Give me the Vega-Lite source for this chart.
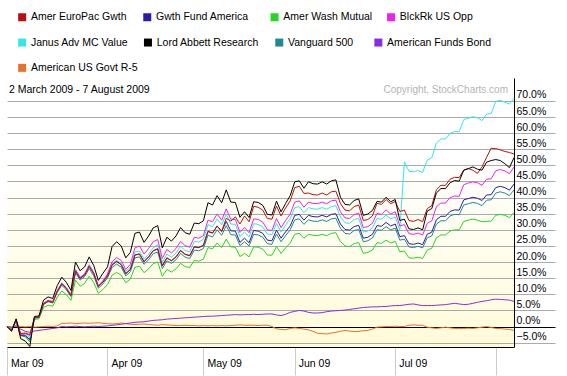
{
  "$schema": "https://vega.github.io/schema/vega-lite/v6.json",
  "width": 507,
  "height": 269,
  "autosize": {"type": "none"},
  "padding": {"left": 7, "top": 78, "right": 53, "bottom": 29},
  "background": "#ffffff",
  "view": {
    "stroke": null,
    "fill": {"gradient": "linear", "x1": 0, "y1": 0, "x2": 0, "y2": 1, "stops": [{"offset": 0, "color": "#ffffff"}, {"offset": 0.3, "color": "#ffffff"}, {"offset": 1, "color": "#fffbd8"}]}
  },
  "config": {
    "font": "Liberation Sans",
    "legend": {
      "orient": "none", "direction": "horizontal", "title": null, "padding": 0,
      "symbolType": "square", "symbolSize": 1, "symbolStrokeWidth": 7,
      "labelFont": "Liberation Sans", "labelFontSize": 10.5, "labelColor": "#000000",
      "labelOffset": 3.5, "labelLimit": 300, "columnPadding": 5
    }
  },
  "resolve": {"scale": {"color": "independent"}, "legend": {"color": "independent"}},
  "datasets": {
    "funds": [
      {"code": "eu", "name": "Amer EuroPac Gwth"},
      {"code": "gf", "name": "Gwth Fund America"},
      {"code": "wm", "name": "Amer Wash Mutual"},
      {"code": "bk", "name": "BlckRk US Opp"},
      {"code": "ja", "name": "Janus Adv MC Value"},
      {"code": "la", "name": "Lord Abbett Research"},
      {"code": "vg", "name": "Vanguard 500"},
      {"code": "bd", "name": "American Funds Bond"},
      {"code": "gv", "name": "American US Govt R-5"}
    ],
    "perf": [
      {"i":0,"eu":0,"gf":0,"wm":0,"bk":0,"ja":0,"la":0,"vg":0,"bd":0,"gv":0},
      {"i":1,"eu":-1.2,"gf":-0.9,"wm":-0.6,"bk":-1.0,"ja":-0.7,"la":-1.5,"vg":-0.8,"bd":-0.3,"gv":-0.1},
      {"i":2,"eu":2.2,"gf":1.8,"wm":1.5,"bk":2.0,"ja":1.8,"la":2.4,"vg":1.6,"bd":0.3,"gv":0.1},
      {"i":3,"eu":-2.2,"gf":-2.8,"wm":-2.8,"bk":-2.6,"ja":-2.3,"la":-3.8,"vg":-2.5,"bd":-0.8,"gv":0.0},
      {"i":4,"eu":-2.0,"gf":-2.9,"wm":-3.2,"bk":-2.2,"ja":-2.5,"la":-4.5,"vg":-2.7,"bd":-1.5,"gv":-0.1},
      {"i":5,"eu":-2.5,"gf":-4.0,"wm":-4.8,"bk":-2.8,"ja":-3.5,"la":-6.2,"vg":-4.3,"bd":-1.8,"gv":0.0},
      {"i":6,"eu":2.7,"gf":2.7,"wm":2.2,"bk":2.7,"ja":2.8,"la":3.1,"vg":2.6,"bd":-1.4,"gv":-0.2},
      {"i":7,"eu":2.9,"gf":2.9,"wm":2.4,"bk":2.9,"ja":3.0,"la":3.3,"vg":2.8,"bd":-1.2,"gv":-0.1},
      {"i":8,"eu":7.0,"gf":7.1,"wm":5.9,"bk":7.2,"ja":7.2,"la":8.2,"vg":6.8,"bd":-1.0,"gv":0.0},
      {"i":9,"eu":7.9,"gf":8.0,"wm":6.6,"bk":8.1,"ja":8.2,"la":9.2,"vg":7.7,"bd":-0.8,"gv":0.1},
      {"i":10,"eu":7.5,"gf":7.6,"wm":6.3,"bk":7.7,"ja":7.8,"la":8.7,"vg":7.3,"bd":-0.6,"gv":0.0},
      {"i":11,"eu":10.9,"gf":11.0,"wm":9.1,"bk":11.1,"ja":11.2,"la":12.7,"vg":10.6,"bd":-0.4,"gv":0.2},
      {"i":12,"eu":13.2,"gf":13.3,"wm":11.0,"bk":13.4,"ja":13.6,"la":15.3,"vg":12.8,"bd":0.0,"gv":1.0},
      {"i":13,"eu":11.8,"gf":11.9,"wm":9.9,"bk":12.0,"ja":12.1,"la":13.7,"vg":11.4,"bd":-0.1,"gv":1.0},
      {"i":14,"eu":9.6,"gf":9.7,"wm":8.1,"bk":9.8,"ja":9.9,"la":11.2,"vg":9.3,"bd":0.0,"gv":1.1},
      {"i":15,"eu":17.2,"gf":17.4,"wm":14.4,"bk":17.6,"ja":17.7,"la":20.0,"vg":16.7,"bd":0.1,"gv":0.9},
      {"i":16,"eu":14.9,"gf":15.0,"wm":12.5,"bk":15.2,"ja":15.3,"la":17.3,"vg":14.4,"bd":0.0,"gv":1.0},
      {"i":17,"eu":15.9,"gf":16.1,"wm":13.4,"bk":16.3,"ja":16.4,"la":18.5,"vg":15.5,"bd":-0.1,"gv":1.1},
      {"i":18,"eu":18.6,"gf":18.8,"wm":15.6,"bk":19.0,"ja":19.2,"la":21.6,"vg":18.0,"bd":0.0,"gv":1.0},
      {"i":19,"eu":16.4,"gf":16.4,"wm":13.6,"bk":16.6,"ja":16.7,"la":18.9,"vg":15.7,"bd":0.1,"gv":1.1},
      {"i":20,"eu":12.4,"gf":12.4,"wm":10.3,"bk":12.6,"ja":12.6,"la":14.3,"vg":11.9,"bd":0.0,"gv":1.2},
      {"i":21,"eu":13.8,"gf":13.8,"wm":11.5,"bk":14.2,"ja":14.1,"la":16.5,"vg":13.2,"bd":0.1,"gv":1.0},
      {"i":22,"eu":15.7,"gf":15.7,"wm":13.0,"bk":16.3,"ja":16.0,"la":18.5,"vg":15.1,"bd":0.2,"gv":0.9},
      {"i":23,"eu":19.1,"gf":19.1,"wm":15.9,"bk":20.1,"ja":19.5,"la":24.8,"vg":18.3,"bd":0.4,"gv":0.8},
      {"i":24,"eu":20.2,"gf":20.2,"wm":16.8,"bk":21.4,"ja":20.6,"la":26.3,"vg":19.4,"bd":0.5,"gv":0.9},
      {"i":25,"eu":19.2,"gf":19.2,"wm":15.9,"bk":20.5,"ja":19.6,"la":25.0,"vg":18.4,"bd":0.7,"gv":1.1},
      {"i":26,"eu":16.4,"gf":16.4,"wm":13.6,"bk":17.7,"ja":17.1,"la":21.3,"vg":15.7,"bd":0.9,"gv":0.9},
      {"i":27,"eu":17.7,"gf":17.7,"wm":14.7,"bk":19.3,"ja":18.4,"la":23.0,"vg":17.0,"bd":1.1,"gv":0.7},
      {"i":28,"eu":22.2,"gf":22.2,"wm":18.4,"bk":24.4,"ja":23.1,"la":28.9,"vg":21.3,"bd":1.3,"gv":0.6},
      {"i":29,"eu":22.5,"gf":22.5,"wm":18.7,"bk":25.0,"ja":23.4,"la":29.3,"vg":21.6,"bd":1.4,"gv":0.7},
      {"i":30,"eu":20.1,"gf":20.1,"wm":16.7,"bk":22.5,"ja":20.9,"la":26.1,"vg":19.3,"bd":1.5,"gv":0.8},
      {"i":31,"eu":21.6,"gf":21.6,"wm":17.9,"bk":24.2,"ja":22.5,"la":28.1,"vg":20.7,"bd":1.7,"gv":0.6},
      {"i":32,"eu":23.5,"gf":23.5,"wm":19.5,"bk":26.3,"ja":24.4,"la":30.6,"vg":22.6,"bd":1.9,"gv":0.5},
      {"i":33,"eu":24.1,"gf":24.1,"wm":20.0,"bk":27.0,"ja":25.4,"la":31.3,"vg":23.1,"bd":2.0,"gv":0.4},
      {"i":34,"eu":18.8,"gf":18.8,"wm":15.6,"bk":21.1,"ja":19.8,"la":24.4,"vg":18.0,"bd":2.1,"gv":0.6},
      {"i":35,"eu":21.3,"gf":21.3,"wm":17.7,"bk":23.9,"ja":22.5,"la":27.7,"vg":20.4,"bd":2.3,"gv":0.5},
      {"i":36,"eu":20.4,"gf":20.4,"wm":16.9,"bk":22.8,"ja":21.5,"la":26.5,"vg":19.6,"bd":2.4,"gv":0.4},
      {"i":37,"eu":21.6,"gf":21.6,"wm":17.9,"bk":24.2,"ja":22.8,"la":28.1,"vg":20.7,"bd":2.5,"gv":0.3},
      {"i":38,"eu":23.6,"gf":23.6,"wm":19.6,"bk":26.4,"ja":24.9,"la":30.7,"vg":22.7,"bd":2.6,"gv":0.3},
      {"i":39,"eu":22.4,"gf":22.4,"wm":18.6,"bk":25.1,"ja":23.6,"la":29.1,"vg":21.5,"bd":2.7,"gv":0.4},
      {"i":40,"eu":22.0,"gf":22.0,"wm":18.3,"bk":24.6,"ja":23.2,"la":28.6,"vg":21.1,"bd":2.8,"gv":0.3},
      {"i":41,"eu":24.7,"gf":24.7,"wm":20.5,"bk":27.7,"ja":26.4,"la":32.1,"vg":23.7,"bd":2.9,"gv":0.3},
      {"i":42,"eu":24.5,"gf":24.5,"wm":20.3,"bk":27.4,"ja":26.2,"la":31.9,"vg":23.5,"bd":3.0,"gv":0.2},
      {"i":43,"eu":25.2,"gf":25.2,"wm":20.9,"bk":28.2,"ja":27.0,"la":32.8,"vg":24.2,"bd":3.1,"gv":0.3},
      {"i":44,"eu":29.5,"gf":29.5,"wm":24.5,"bk":33.0,"ja":31.6,"la":38.4,"vg":28.3,"bd":3.2,"gv":0.2},
      {"i":45,"eu":29.0,"gf":29.0,"wm":24.1,"bk":32.5,"ja":31.0,"la":37.7,"vg":27.8,"bd":3.2,"gv":0.3},
      {"i":46,"eu":31.2,"gf":31.2,"wm":25.9,"bk":34.9,"ja":33.4,"la":40.6,"vg":30.0,"bd":3.3,"gv":0.2},
      {"i":47,"eu":29.5,"gf":29.5,"wm":24.5,"bk":33.0,"ja":31.6,"la":38.4,"vg":28.3,"bd":3.4,"gv":0.3},
      {"i":48,"eu":33.6,"gf":32.6,"wm":27.1,"bk":36.5,"ja":34.9,"la":42.4,"vg":31.3,"bd":3.5,"gv":0.2},
      {"i":49,"eu":32.7,"gf":29.7,"wm":24.7,"bk":33.3,"ja":31.8,"la":38.6,"vg":28.5,"bd":3.6,"gv":0.3},
      {"i":50,"eu":34.0,"gf":29.6,"wm":24.6,"bk":33.2,"ja":31.7,"la":38.5,"vg":28.4,"bd":3.7,"gv":0.4},
      {"i":51,"eu":31.8,"gf":26.1,"wm":21.7,"bk":29.2,"ja":27.9,"la":33.9,"vg":25.1,"bd":3.6,"gv":0.5},
      {"i":52,"eu":34.3,"gf":27.4,"wm":22.7,"bk":30.7,"ja":29.3,"la":35.6,"vg":26.3,"bd":3.7,"gv":0.4},
      {"i":53,"eu":32.5,"gf":26.0,"wm":21.6,"bk":29.1,"ja":27.8,"la":33.8,"vg":25.0,"bd":3.7,"gv":0.4},
      {"i":54,"eu":37.3,"gf":29.8,"wm":24.7,"bk":33.4,"ja":31.9,"la":38.7,"vg":28.6,"bd":3.8,"gv":0.4},
      {"i":55,"eu":37.0,"gf":29.6,"wm":24.6,"bk":33.2,"ja":31.7,"la":38.5,"vg":28.4,"bd":3.7,"gv":0.3},
      {"i":56,"eu":36.1,"gf":28.9,"wm":24.0,"bk":32.4,"ja":30.9,"la":37.6,"vg":27.7,"bd":3.8,"gv":0.4},
      {"i":57,"eu":33.5,"gf":26.8,"wm":22.2,"bk":30.0,"ja":28.7,"la":34.8,"vg":25.7,"bd":3.9,"gv":0.4},
      {"i":58,"eu":33.3,"gf":26.6,"wm":22.1,"bk":29.8,"ja":28.5,"la":34.6,"vg":25.5,"bd":3.9,"gv":0.0},
      {"i":59,"eu":37.4,"gf":29.9,"wm":24.8,"bk":33.5,"ja":32.0,"la":38.9,"vg":28.7,"bd":3.6,"gv":-0.7},
      {"i":60,"eu":34.3,"gf":27.4,"wm":22.7,"bk":30.7,"ja":29.3,"la":35.6,"vg":26.3,"bd":3.4,"gv":-0.9},
      {"i":61,"eu":36.8,"gf":29.4,"wm":24.4,"bk":32.9,"ja":31.5,"la":38.2,"vg":28.2,"bd":3.8,"gv":-1.0},
      {"i":62,"eu":39.0,"gf":31.2,"wm":25.9,"bk":34.9,"ja":33.4,"la":40.6,"vg":30.0,"bd":4.4,"gv":-0.6},
      {"i":63,"eu":43.1,"gf":34.5,"wm":28.6,"bk":38.6,"ja":36.9,"la":44.9,"vg":33.1,"bd":4.7,"gv":-0.4},
      {"i":64,"eu":43.5,"gf":34.8,"wm":28.9,"bk":39.0,"ja":37.2,"la":45.2,"vg":33.4,"bd":5.0,"gv":-0.6},
      {"i":65,"eu":41.3,"gf":33.0,"wm":27.4,"bk":37.0,"ja":35.3,"la":42.9,"vg":31.7,"bd":4.8,"gv":-0.8},
      {"i":66,"eu":41.4,"gf":34.5,"wm":28.6,"bk":38.6,"ja":36.9,"la":44.9,"vg":33.1,"bd":4.4,"gv":-1.0},
      {"i":67,"eu":40.9,"gf":34.1,"wm":28.3,"bk":38.2,"ja":36.5,"la":44.3,"vg":32.7,"bd":4.2,"gv":-1.5},
      {"i":68,"eu":40.8,"gf":34.0,"wm":28.2,"bk":38.1,"ja":36.4,"la":44.2,"vg":32.6,"bd":4.2,"gv":-2.1},
      {"i":69,"eu":41.4,"gf":34.5,"wm":28.6,"bk":38.6,"ja":36.9,"la":44.9,"vg":33.1,"bd":4.3,"gv":-2.2},
      {"i":70,"eu":40.8,"gf":34.0,"wm":28.2,"bk":38.1,"ja":36.4,"la":44.2,"vg":32.6,"bd":4.6,"gv":-2.3},
      {"i":71,"eu":41.8,"gf":34.8,"wm":28.9,"bk":39.0,"ja":37.2,"la":45.2,"vg":33.4,"bd":4.8,"gv":-2.0},
      {"i":72,"eu":42.0,"gf":35.0,"wm":29.1,"bk":39.2,"ja":37.5,"la":45.5,"vg":33.6,"bd":4.9,"gv":-1.8},
      {"i":73,"eu":38.2,"gf":31.8,"wm":26.4,"bk":35.6,"ja":34.0,"la":40.1,"vg":30.5,"bd":5.0,"gv":-1.5},
      {"i":74,"eu":36.1,"gf":30.1,"wm":25.0,"bk":33.7,"ja":32.2,"la":37.9,"vg":28.9,"bd":5.1,"gv":-1.2},
      {"i":75,"eu":35.9,"gf":29.9,"wm":24.8,"bk":33.5,"ja":32.0,"la":37.7,"vg":28.7,"bd":5.3,"gv":-1.4},
      {"i":76,"eu":37.2,"gf":31.0,"wm":25.7,"bk":34.7,"ja":33.2,"la":39.1,"vg":29.8,"bd":5.5,"gv":-1.6},
      {"i":77,"eu":37.7,"gf":31.4,"wm":26.1,"bk":35.2,"ja":33.6,"la":39.6,"vg":30.1,"bd":5.7,"gv":-1.5},
      {"i":78,"eu":32.9,"gf":27.4,"wm":22.7,"bk":30.7,"ja":29.3,"la":34.5,"vg":26.3,"bd":5.9,"gv":-1.3},
      {"i":79,"eu":33.2,"gf":27.7,"wm":23.0,"bk":31.0,"ja":29.6,"la":34.9,"vg":26.6,"bd":6.0,"gv":-1.2},
      {"i":80,"eu":34.3,"gf":28.6,"wm":23.7,"bk":32.0,"ja":30.6,"la":36.0,"vg":27.5,"bd":6.1,"gv":-0.8},
      {"i":81,"eu":38.2,"gf":31.3,"wm":26.0,"bk":35.1,"ja":33.5,"la":38.8,"vg":30.0,"bd":6.1,"gv":-0.2},
      {"i":82,"eu":37.9,"gf":31.1,"wm":25.8,"bk":34.8,"ja":33.3,"la":38.6,"vg":29.9,"bd":6.2,"gv":-0.1},
      {"i":83,"eu":39.4,"gf":32.3,"wm":26.8,"bk":36.2,"ja":34.6,"la":40.1,"vg":31.0,"bd":6.2,"gv":0.0},
      {"i":84,"eu":38.1,"gf":31.2,"wm":25.9,"bk":34.9,"ja":33.4,"la":38.7,"vg":30.0,"bd":6.4,"gv":0.0},
      {"i":85,"eu":38.8,"gf":31.8,"wm":26.4,"bk":35.6,"ja":34.0,"la":39.4,"vg":30.5,"bd":6.5,"gv":0.1},
      {"i":86,"eu":35.7,"gf":27.9,"wm":23.2,"bk":31.2,"ja":29.9,"la":32.9,"vg":26.8,"bd":6.5,"gv":0.0},
      {"i":87,"eu":36.1,"gf":28.2,"wm":23.4,"bk":31.6,"ja":51.1,"la":33.3,"vg":27.1,"bd":6.7,"gv":0.0},
      {"i":88,"eu":32.9,"gf":25.7,"wm":21.3,"bk":28.8,"ja":48.2,"la":30.3,"vg":24.7,"bd":6.9,"gv":0.4},
      {"i":89,"eu":32.6,"gf":25.5,"wm":21.2,"bk":28.6,"ja":48.0,"la":30.1,"vg":24.5,"bd":7.0,"gv":0.5},
      {"i":90,"eu":33.2,"gf":25.9,"wm":21.5,"bk":29.0,"ja":48.4,"la":30.6,"vg":24.9,"bd":6.7,"gv":0.4},
      {"i":91,"eu":32.5,"gf":25.4,"wm":21.1,"bk":28.4,"ja":47.8,"la":30.0,"vg":24.4,"bd":6.5,"gv":0.4},
      {"i":92,"eu":36.6,"gf":28.6,"wm":23.7,"bk":32.0,"ja":51.6,"la":35.8,"vg":27.5,"bd":6.5,"gv":-0.2},
      {"i":93,"eu":37.5,"gf":29.3,"wm":24.3,"bk":32.8,"ja":52.4,"la":36.6,"vg":28.1,"bd":6.5,"gv":-0.4},
      {"i":94,"eu":42.4,"gf":33.1,"wm":27.5,"bk":37.1,"ja":56.9,"la":41.4,"vg":31.8,"bd":6.6,"gv":-0.6},
      {"i":95,"eu":43.8,"gf":34.2,"wm":28.4,"bk":38.3,"ja":58.2,"la":42.8,"vg":32.8,"bd":6.7,"gv":-0.4},
      {"i":96,"eu":43.8,"gf":34.2,"wm":28.4,"bk":38.3,"ja":58.2,"la":42.8,"vg":32.8,"bd":6.8,"gv":-0.2},
      {"i":97,"eu":45.7,"gf":35.7,"wm":29.6,"bk":40.0,"ja":59.9,"la":44.6,"vg":34.3,"bd":7.0,"gv":-0.4},
      {"i":98,"eu":46.3,"gf":36.2,"wm":30.0,"bk":40.5,"ja":60.5,"la":45.3,"vg":34.8,"bd":7.2,"gv":-0.6},
      {"i":99,"eu":46.2,"gf":36.1,"wm":30.0,"bk":40.4,"ja":60.4,"la":45.1,"vg":34.7,"bd":7.0,"gv":-0.6},
      {"i":100,"eu":48.5,"gf":39.3,"wm":32.6,"bk":44.0,"ja":64.2,"la":48.5,"vg":37.7,"bd":6.8,"gv":-0.6},
      {"i":101,"eu":49.0,"gf":39.7,"wm":33.0,"bk":44.5,"ja":64.6,"la":49.0,"vg":38.1,"bd":6.9,"gv":-0.5},
      {"i":102,"eu":48.5,"gf":40.1,"wm":33.3,"bk":44.9,"ja":65.1,"la":49.5,"vg":38.5,"bd":7.2,"gv":-0.6},
      {"i":103,"eu":47.5,"gf":39.8,"wm":33.0,"bk":44.6,"ja":64.8,"la":48.8,"vg":38.2,"bd":7.5,"gv":-0.4},
      {"i":104,"eu":49.5,"gf":39.1,"wm":32.5,"bk":43.8,"ja":63.9,"la":48.5,"vg":37.5,"bd":7.8,"gv":-0.2},
      {"i":105,"eu":52.5,"gf":40.8,"wm":32.6,"bk":45.7,"ja":65.9,"la":51.0,"vg":39.2,"bd":8.0,"gv":0.0},
      {"i":106,"eu":55.3,"gf":40.9,"wm":32.7,"bk":45.8,"ja":66.1,"la":51.5,"vg":39.3,"bd":8.3,"gv":-0.3},
      {"i":107,"eu":55.2,"gf":43.1,"wm":34.5,"bk":48.3,"ja":69.8,"la":51.8,"vg":41.4,"bd":8.5,"gv":-0.6},
      {"i":108,"eu":54.8,"gf":43.5,"wm":34.8,"bk":48.7,"ja":70.2,"la":51.5,"vg":41.8,"bd":8.4,"gv":-0.6},
      {"i":109,"eu":54.3,"gf":43.1,"wm":34.5,"bk":48.3,"ja":69.6,"la":50.5,"vg":41.4,"bd":8.3,"gv":-0.8},
      {"i":110,"eu":54.0,"gf":42.3,"wm":33.8,"bk":47.4,"ja":69.0,"la":49.3,"vg":40.6,"bd":8.2,"gv":-0.9},
      {"i":111,"eu":53.5,"gf":44.2,"wm":35.4,"bk":49.5,"ja":70.8,"la":52.4,"vg":42.4,"bd":7.8,"gv":-1.2}
    ]
  },
  "layer": [
    {
      "data": {"name": "perf"},
      "transform": [
        {"fold": ["gv"], "as": ["code", "value"]},
        {"lookup": "code", "from": {"data": {"name": "funds"}, "key": "code", "fields": ["name"]}}
      ],
      "mark": {"type": "line", "strokeWidth": 1},
      "encoding": {
        "x": {
          "field": "i", "type": "quantitative",
          "scale": {"domain": [0, 111], "nice": false, "zero": false},
          "axis": {
            "orient": "bottom", "title": null, "grid": false,
            "values": [0, 22, 43, 63, 85, 107], "tickCount": 6,
            "labelExpr": "datum.value == 0 ? 'Mar 09' : datum.value == 22 ? 'Apr 09' : datum.value == 43 ? 'May 09' : datum.value == 63 ? 'Jun 09' : datum.value == 85 ? 'Jul 09' : ''",
            "domain": true, "domainColor": "#000000", "domainWidth": 1,
            "ticks": true, "tickColor": "#cccccc", "tickSize": 28, "tickWidth": 1,
            "labelAlign": "left", "labelBaseline": "middle", "labelPadding": -12, "labelOffset": 3.5,
            "labelFont": "Liberation Sans", "labelFontSize": 10.5, "labelColor": "#000000",
            "labelBound": false, "labelFlush": false, "labelOverlap": false
          }
        },
        "y": {
          "field": "value", "type": "quantitative",
          "scale": {"domain": [-6.35, 77.1], "nice": false, "zero": false},
          "axis": {
            "orient": "right", "title": null,
            "values": [-5, 0, 5, 10, 15, 20, 25, 30, 35, 40, 45, 50, 55, 60, 65, 70], "tickCount": 16,
            "labelExpr": "format(datum.value, '.1f') + '%'",
            "grid": true,
            "gridColor": {"condition": {"test": "datum.value === 0", "value": "#000000"}, "value": "#aaaaaa"},
            "gridWidth": 1,
            "domain": true, "domainColor": "#000000", "domainWidth": 1,
            "ticks": true, "tickSize": 41, "tickWidth": 1,
            "tickColor": {"condition": {"test": "datum.value === 0", "value": "#000000"}, "value": "#aaaaaa"},
            "labelAlign": "left", "labelBaseline": "alphabetic", "labelPadding": -39, "labelOffset": -3,
            "labelFont": "Liberation Sans", "labelFontSize": 10.5, "labelColor": "#000000",
            "labelBound": false, "labelFlush": false, "labelOverlap": false
          }
        },
        "color": {
          "field": "name", "type": "nominal",
          "scale": {"domain": ["American US Govt R-5"], "range": ["#e8702a"]},
          "legend": {"legendX": 9.9, "legendY": -15.4, "encode": {"symbols": {"update": {"size": {"value": 1}, "strokeWidth": {"value": 7}, "shape": {"value": "square"}, "opacity": {"value": 1}}}}}
        }
      }
    },
    {
      "data": {"name": "perf"},
      "transform": [
        {"fold": ["bd"], "as": ["code", "value"]},
        {"lookup": "code", "from": {"data": {"name": "funds"}, "key": "code", "fields": ["name"]}}
      ],
      "mark": {"type": "line", "strokeWidth": 1},
      "encoding": {
        "x": {"field": "i", "type": "quantitative", "scale": {"domain": [0, 111], "nice": false, "zero": false}},
        "y": {"field": "value", "type": "quantitative", "scale": {"domain": [-6.35, 77.1], "nice": false, "zero": false}},
        "color": {
          "field": "name", "type": "nominal",
          "scale": {"domain": ["American Funds Bond"], "range": ["#8a2be2"]},
          "legend": {"legendX": 366.1, "legendY": -40.7, "encode": {"symbols": {"update": {"size": {"value": 1}, "strokeWidth": {"value": 7}, "shape": {"value": "square"}, "opacity": {"value": 1}}}}}
        }
      }
    },
    {
      "data": {"name": "perf"},
      "transform": [
        {"fold": ["wm"], "as": ["code", "value"]},
        {"lookup": "code", "from": {"data": {"name": "funds"}, "key": "code", "fields": ["name"]}}
      ],
      "mark": {"type": "line", "strokeWidth": 1},
      "encoding": {
        "x": {"field": "i", "type": "quantitative", "scale": {"domain": [0, 111], "nice": false, "zero": false}},
        "y": {"field": "value", "type": "quantitative", "scale": {"domain": [-6.35, 77.1], "nice": false, "zero": false}},
        "color": {
          "field": "name", "type": "nominal",
          "scale": {"domain": ["Amer Wash Mutual"], "range": ["#22d822"]},
          "legend": {"legendX": 262.3, "legendY": -66, "encode": {"symbols": {"update": {"size": {"value": 1}, "strokeWidth": {"value": 7}, "shape": {"value": "square"}, "opacity": {"value": 1}}}}}
        }
      }
    },
    {
      "data": {"name": "perf"},
      "transform": [
        {"fold": ["vg"], "as": ["code", "value"]},
        {"lookup": "code", "from": {"data": {"name": "funds"}, "key": "code", "fields": ["name"]}}
      ],
      "mark": {"type": "line", "strokeWidth": 1},
      "encoding": {
        "x": {"field": "i", "type": "quantitative", "scale": {"domain": [0, 111], "nice": false, "zero": false}},
        "y": {"field": "value", "type": "quantitative", "scale": {"domain": [-6.35, 77.1], "nice": false, "zero": false}},
        "color": {
          "field": "name", "type": "nominal",
          "scale": {"domain": ["Vanguard 500"], "range": ["#1f8a8f"]},
          "legend": {"legendX": 267, "legendY": -40.7, "encode": {"symbols": {"update": {"size": {"value": 1}, "strokeWidth": {"value": 7}, "shape": {"value": "square"}, "opacity": {"value": 1}}}}}
        }
      }
    },
    {
      "data": {"name": "perf"},
      "transform": [
        {"fold": ["gf"], "as": ["code", "value"]},
        {"lookup": "code", "from": {"data": {"name": "funds"}, "key": "code", "fields": ["name"]}}
      ],
      "mark": {"type": "line", "strokeWidth": 1},
      "encoding": {
        "x": {"field": "i", "type": "quantitative", "scale": {"domain": [0, 111], "nice": false, "zero": false}},
        "y": {"field": "value", "type": "quantitative", "scale": {"domain": [-6.35, 77.1], "nice": false, "zero": false}},
        "color": {
          "field": "name", "type": "nominal",
          "scale": {"domain": ["Gwth Fund America"], "range": ["#2a1aa8"]},
          "legend": {"legendX": 135, "legendY": -66, "encode": {"symbols": {"update": {"size": {"value": 1}, "strokeWidth": {"value": 7}, "shape": {"value": "square"}, "opacity": {"value": 1}}}}}
        }
      }
    },
    {
      "data": {"name": "perf"},
      "transform": [
        {"fold": ["ja"], "as": ["code", "value"]},
        {"lookup": "code", "from": {"data": {"name": "funds"}, "key": "code", "fields": ["name"]}}
      ],
      "mark": {"type": "line", "strokeWidth": 1},
      "encoding": {
        "x": {"field": "i", "type": "quantitative", "scale": {"domain": [0, 111], "nice": false, "zero": false}},
        "y": {"field": "value", "type": "quantitative", "scale": {"domain": [-6.35, 77.1], "nice": false, "zero": false}},
        "color": {
          "field": "name", "type": "nominal",
          "scale": {"domain": ["Janus Adv MC Value"], "range": ["#33e6ee"]},
          "legend": {"legendX": 9.9, "legendY": -40.7, "encode": {"symbols": {"update": {"size": {"value": 1}, "strokeWidth": {"value": 7}, "shape": {"value": "square"}, "opacity": {"value": 1}}}}}
        }
      }
    },
    {
      "data": {"name": "perf"},
      "transform": [
        {"fold": ["bk"], "as": ["code", "value"]},
        {"lookup": "code", "from": {"data": {"name": "funds"}, "key": "code", "fields": ["name"]}}
      ],
      "mark": {"type": "line", "strokeWidth": 1},
      "encoding": {
        "x": {"field": "i", "type": "quantitative", "scale": {"domain": [0, 111], "nice": false, "zero": false}},
        "y": {"field": "value", "type": "quantitative", "scale": {"domain": [-6.35, 77.1], "nice": false, "zero": false}},
        "color": {
          "field": "name", "type": "nominal",
          "scale": {"domain": ["BlckRk US Opp"], "range": ["#ee22ee"]},
          "legend": {"legendX": 378.8, "legendY": -66, "encode": {"symbols": {"update": {"size": {"value": 1}, "strokeWidth": {"value": 7}, "shape": {"value": "square"}, "opacity": {"value": 1}}}}}
        }
      }
    },
    {
      "data": {"name": "perf"},
      "transform": [
        {"fold": ["eu"], "as": ["code", "value"]},
        {"lookup": "code", "from": {"data": {"name": "funds"}, "key": "code", "fields": ["name"]}}
      ],
      "mark": {"type": "line", "strokeWidth": 1},
      "encoding": {
        "x": {"field": "i", "type": "quantitative", "scale": {"domain": [0, 111], "nice": false, "zero": false}},
        "y": {"field": "value", "type": "quantitative", "scale": {"domain": [-6.35, 77.1], "nice": false, "zero": false}},
        "color": {
          "field": "name", "type": "nominal",
          "scale": {"domain": ["Amer EuroPac Gwth"], "range": ["#b81010"]},
          "legend": {"legendX": 9.9, "legendY": -66, "encode": {"symbols": {"update": {"size": {"value": 1}, "strokeWidth": {"value": 7}, "shape": {"value": "square"}, "opacity": {"value": 1}}}}}
        }
      }
    },
    {
      "data": {"name": "perf"},
      "transform": [
        {"fold": ["la"], "as": ["code", "value"]},
        {"lookup": "code", "from": {"data": {"name": "funds"}, "key": "code", "fields": ["name"]}}
      ],
      "mark": {"type": "line", "strokeWidth": 1},
      "encoding": {
        "x": {"field": "i", "type": "quantitative", "scale": {"domain": [0, 111], "nice": false, "zero": false}},
        "y": {"field": "value", "type": "quantitative", "scale": {"domain": [-6.35, 77.1], "nice": false, "zero": false}},
        "color": {
          "field": "name", "type": "nominal",
          "scale": {"domain": ["Lord Abbett Research"], "range": ["#000000"]},
          "legend": {"legendX": 135.7, "legendY": -40.7, "encode": {"symbols": {"update": {"size": {"value": 1}, "strokeWidth": {"value": 7}, "shape": {"value": "square"}, "opacity": {"value": 1}}}}}
        }
      }
    },
    {
      "data": {"values": [{"t": "2 March 2009 - 7 August 2009"}]},
      "mark": {"type": "text", "align": "left", "baseline": "middle", "dx": 2, "font": "Liberation Sans", "fontSize": 10.5, "color": "#000000"},
      "encoding": {
        "x": {"datum": 0, "type": "quantitative"},
        "y": {"datum": 73.3, "type": "quantitative"},
        "text": {"field": "t"}
      }
    },
    {
      "data": {"values": [{"t": "Copyright, StockCharts.com"}]},
      "mark": {"type": "text", "align": "right", "baseline": "middle", "dx": -6, "font": "Liberation Sans", "fontSize": 10, "color": "#b4b4b4"},
      "encoding": {
        "x": {"datum": 111, "type": "quantitative"},
        "y": {"datum": 73.3, "type": "quantitative"},
        "text": {"field": "t"}
      }
    }
  ]
}
